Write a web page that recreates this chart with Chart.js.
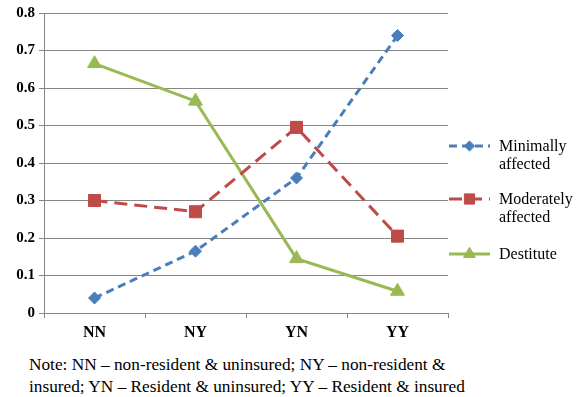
<!DOCTYPE html>
<html>
<head>
<meta charset="utf-8">
<script src="https://cdn.jsdelivr.net/npm/chart.js@4.4.0/dist/chart.umd.min.js"></script>
<style>
  html, body { margin: 0; padding: 0; background: #fff; }
  #wrap { position: relative; width: 578px; height: 397px; }
  #chartBox { position: absolute; left: 0; top: 0; width: 578px; height: 345px; }
  #note { position: absolute; left: 29px; top: 354px; font-family: 'Liberation Serif', 'DejaVu Serif', serif;
          font-size: 17.3px; line-height: 22px; color: #000; white-space: nowrap; }
</style>
</head>
<body>
<div id="wrap">
  <div id="chartBox"><canvas id="c"></canvas></div>
  <div id="note">Note: NN – non-resident &amp; uninsured; NY – non-resident &amp;<br>insured; YN – Resident &amp; uninsured; YY – Resident &amp; insured</div>
</div>
<script>
const categories = ["NN", "NY", "YN", "YY"];
const minimallyAffected = [0.04, 0.165, 0.36, 0.74];
const moderatelyAffected = [0.30, 0.27, 0.495, 0.205];
const destitute = [0.665, 0.565, 0.145, 0.058];
const yTicks = [0, 0.1, 0.2, 0.3, 0.4, 0.5, 0.6, 0.7, 0.8];
const legendLabels = [["Minimally", "affected"], ["Moderately", "affected"], ["Destitute"]];

const serif = "'Liberation Serif', 'DejaVu Serif', serif";

// Legend on the right, drawn with each dataset's own line and marker style
const sideLegend = {
  id: 'sideLegend',
  afterDraw(chart) {
    const ctx = chart.ctx;
    const x0 = 449, x1 = 490, xt = 499;
    const rows = [146, 199, 254];
    chart.data.datasets.forEach((ds, i) => {
      const y = rows[i];
      ctx.save();
      ctx.strokeStyle = ds.borderColor;
      ctx.lineWidth = ds.borderWidth;
      ctx.setLineDash(ds.borderDash || []);
      ctx.beginPath();
      ctx.moveTo(x0, y);
      ctx.lineTo(x1, y);
      ctx.stroke();
      ctx.setLineDash([]);
      ctx.fillStyle = ds.backgroundColor;
      ctx.strokeStyle = ds.backgroundColor;
      ctx.lineWidth = 1;
      Chart.helpers.drawPoint(ctx, {
        pointStyle: ds.pointStyle,
        radius: ds.pointRadius * 0.85,
        rotation: 0,
        borderWidth: 1
      }, (x0 + x1) / 2, y);
      ctx.fillStyle = '#000';
      ctx.font = '16px ' + serif;
      ctx.textBaseline = 'middle';
      ctx.textAlign = 'left';
      legendLabels[i].forEach((t, k) => ctx.fillText(t, xt, y + 1 + k * 18));
      ctx.restore();
    });
  }
};

new Chart(document.getElementById('c'), {
  type: 'line',
  data: {
    labels: categories,
    datasets: [
      {
        label: 'Minimally affected',
        data: minimallyAffected,
        borderColor: '#4a7ebb',
        backgroundColor: '#4a7ebb',
        borderWidth: 3,
        borderDash: [8, 5],
        pointStyle: 'rectRot',
        pointRadius: 6,
        pointBorderWidth: 1,
        tension: 0
      },
      {
        label: 'Moderately affected',
        data: moderatelyAffected,
        borderColor: '#be4b48',
        backgroundColor: '#be4b48',
        borderWidth: 3,
        borderDash: [13, 7],
        pointStyle: 'rect',
        pointRadius: 8.5,
        pointBorderWidth: 1,
        tension: 0
      },
      {
        label: 'Destitute',
        data: destitute,
        borderColor: '#98b954',
        backgroundColor: '#98b954',
        borderWidth: 3,
        pointStyle: 'triangle',
        pointRadius: 8,
        pointBorderWidth: 1,
        tension: 0
      }
    ]
  },
  options: {
    responsive: true,
    maintainAspectRatio: false,
    animation: false,
    layout: { padding: { top: 12, right: 130, left: 0, bottom: 0 } },
    plugins: { legend: { display: false }, tooltip: { enabled: false } },
    scales: {
      x: {
        offset: true,
        grid: { display: true, offset: true, drawOnChartArea: false, drawTicks: true, tickLength: 5, color: '#868686' },
        border: { display: true, color: '#868686', width: 1 },
        ticks: { color: '#000', font: { family: serif, size: 16, weight: 'bold' }, padding: 5 },
        afterFit(scale) { scale.height = 32; }
      },
      y: {
        min: 0, max: 0.8,
        afterBuildTicks(scale) { scale.ticks = yTicks.map(v => ({ value: v })); },
        grid: { color: '#868686', drawTicks: true, tickLength: 5 },
        border: { display: true, color: '#868686', width: 1 },
        ticks: {
          color: '#000', padding: 4,
          font: { family: serif, size: 15, weight: 'bold' },
          callback: v => (v === 0 ? '0' : v.toFixed(1))
        },
        afterFit(scale) { scale.width = 44; }
      }
    }
  },
  plugins: [sideLegend]
});
</script>
</body>
</html>
